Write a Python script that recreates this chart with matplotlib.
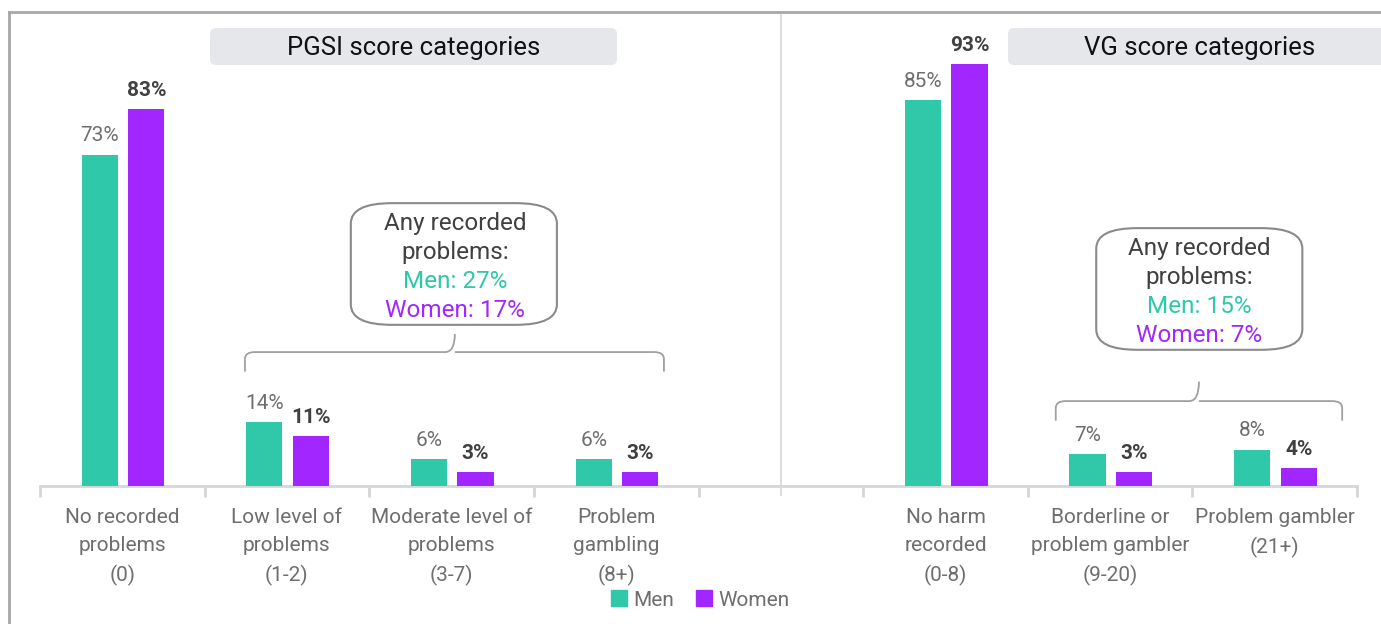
import matplotlib
matplotlib.use("Agg")
import matplotlib.pyplot as plt
from matplotlib.patches import FancyBboxPatch, PathPatch
from matplotlib.path import Path
from matplotlib.lines import Line2D

# Colours
GREEN = "#2FC9A9"
PURPLE = "#A126FF"
LABEL_GREY = "#6E6E6E"
DARK = "#404040"
AXIS_GREY = "#D6D6D6"
BOX_FILL = "#E6E7EB"

FONT = ["Roboto", "DejaVu Sans"]

# PGSI categories (slots 0-3), empty slot 4, VG categories (slots 5-7)
pgsi_labels = ["No recorded\nproblems\n(0)", "Low level of\nproblems\n(1-2)",
               "Moderate level of\nproblems\n(3-7)", "Problem\ngambling\n(8+)"]
pgsi_men = [73, 14, 6, 6]
pgsi_women = [83, 11, 3, 3]

vg_labels = ["No harm\nrecorded\n(0-8)", "Borderline or\nproblem gambler\n(9-20)",
             "Problem gambler\n(21+)"]
vg_men = [85, 7, 8]
vg_women = [93, 3, 4]

pgsi_any = {"Men": 27, "Women": 17}
vg_any = {"Men": 15, "Women": 7}

pgsi_pos = [0, 1, 2, 3]
vg_pos = [5, 6, 7]
divider_pos = 4

positions = pgsi_pos + vg_pos
labels = pgsi_labels + vg_labels
men = pgsi_men + vg_men
women = pgsi_women + vg_women

W, H = 1381, 624
fig = plt.figure(figsize=(W / 100, H / 100), dpi=100)
ax = fig.add_axes([40 / W, (H - 486) / H, 1317 / W, (486 - 32) / H])
ax.set_xlim(-0.5, 7.5)
ax.set_ylim(0, 100)

bw = 0.22
off_m, off_w = -0.137, 0.146
ax.bar([p + off_m for p in positions], men, width=bw, color=GREEN, label="Men", zorder=3)
ax.bar([p + off_w for p in positions], women, width=bw, color=PURPLE, label="Women", zorder=3)

for p, m, w in zip(positions, men, women):
    ax.annotate(f"{m}%", (p + off_m, m), xytext=(0, 13.5), textcoords="offset points",
                ha="center", va="center", fontsize=15, color=LABEL_GREY, family=FONT)
    ax.annotate(f"{w}%", (p + off_w, w), xytext=(0, 13.5), textcoords="offset points",
                ha="center", va="center", fontsize=15, color=DARK, fontweight="bold", family=FONT)

# axis: baseline with separator ticks between categories
for s in ["top", "left", "right"]:
    ax.spines[s].set_visible(False)
ax.spines["bottom"].set_color(AXIS_GREY)
ax.spines["bottom"].set_linewidth(2)
ax.set_yticks([])
ax.set_xticks(positions)
ax.set_xticklabels(labels, fontsize=15, color=LABEL_GREY, family=FONT, linespacing=1.6)
ax.tick_params(axis="x", which="major", length=0, pad=16)
ax.set_xticks([i - 0.5 for i in range(9)], minor=True)
ax.tick_params(axis="x", which="minor", length=8, width=2, color=AXIS_GREY)

# divider between the two score systems, up to the outer frame
ax.plot([divider_pos, divider_pos], [-2, 104.3], color=AXIS_GREY, lw=1.2,
        clip_on=False, zorder=1)


# header boxes, in pixel coordinates of the figure
def header(x0, x1, y_top, y_bot, text):
    rect = FancyBboxPatch((x0, H - y_bot), x1 - x0, y_bot - y_top,
                          boxstyle="round,pad=0,rounding_size=6",
                          transform=None, facecolor=BOX_FILL, edgecolor="none",
                          zorder=0)
    fig.patches.append(rect)
    fig.text((x0 + x1) / 2 / W, (H - (y_top + y_bot) / 2 - 1) / H, text, ha="center",
             va="center", fontsize=18.5, color="#111111", family=FONT)


header(210, 617, 28, 65, "PGSI score categories")
header(1008, 1392, 28, 65, "VG score categories")


def summary(xc, any_vals, x0, x1, y0, y1, span, by_top, by_tip):
    # rounded box with "any recorded problems" totals
    rect = FancyBboxPatch((x0, y0), x1 - x0, y1 - y0,
                          boxstyle="round,pad=0,rounding_size=0.25",
                          mutation_aspect=18, facecolor="white", edgecolor="#8A8A8A",
                          lw=1.5, zorder=4)
    ax.add_patch(rect)
    lines = [("Any recorded", DARK), ("problems:", DARK),
             (f"Men: {any_vals['Men']}%", GREEN), (f"Women: {any_vals['Women']}%", PURPLE)]
    step = 6.4
    for i, (t, c) in enumerate(lines):
        ax.text(xc, y1 - 4.5 - step * i, t, ha="center", va="center", fontsize=17.5,
                color=c, family=FONT, zorder=5)
    # curly brace spanning the grouped categories
    bl, br = span
    yb, ye = by_top, by_top - 4.3
    r = 0.06
    verts = [(bl, ye), (bl, yb - 1.5), (bl, yb), (bl + r, yb),
             (xc - r, yb), (xc, yb), (xc, by_tip),
             (xc, yb), (xc + r, yb),
             (br - r, yb), (br, yb), (br, yb - 1.5), (br, ye)]
    codes = [Path.MOVETO, Path.LINETO, Path.CURVE3, Path.CURVE3,
             Path.LINETO, Path.CURVE3, Path.CURVE3,
             Path.MOVETO, Path.LINETO,
             Path.LINETO, Path.CURVE3, Path.CURVE3, Path.LINETO]
    ax.add_patch(PathPatch(Path(verts, codes), facecolor="none", edgecolor="#A0A0A0",
                           lw=1.3, zorder=4))


summary(2.02, pgsi_any, 1.388, 2.640, 35.5, 62.3, (0.745, 3.29), 29.5, 33.5)
summary(6.54, vg_any, 5.916, 7.168, 30.0, 56.8, (5.67, 7.41), 18.7, 23.0)

# legend
handles = [Line2D([], [], marker="s", ls="", color=GREEN, markersize=11),
           Line2D([], [], marker="s", ls="", color=PURPLE, markersize=11)]
fig.legend(handles, ["Men", "Women"], loc="center", bbox_to_anchor=(700 / W, (H - 600) / H),
           ncol=2, frameon=False, handlelength=0.8, handletextpad=0.3, columnspacing=1.0,
           prop={"family": FONT, "size": 15}, labelcolor=LABEL_GREY)

# outer frame
fig.add_artist(Line2D([9 / W, 9 / W], [0, (H - 12) / H], color="#A8A8A8", lw=2))
fig.add_artist(Line2D([9 / W, 1], [(H - 12) / H, (H - 12) / H], color="#A8A8A8", lw=2))

fig.savefig("out.png", dpi=100)
